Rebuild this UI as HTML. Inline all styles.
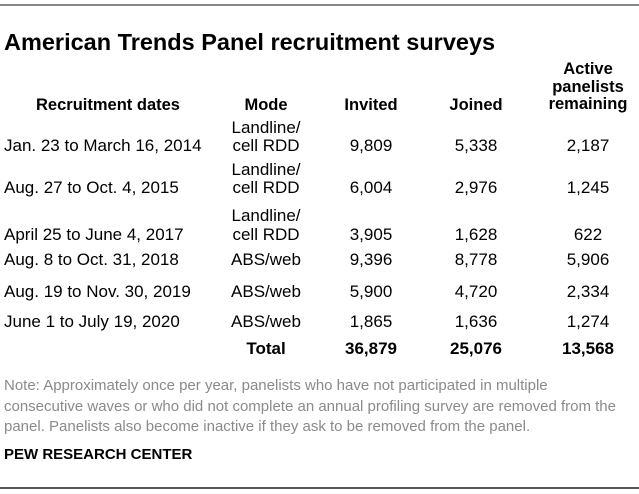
<!DOCTYPE html>
<html><head><style>
body{margin:0;width:639px;height:494px;background:#fff;position:relative;overflow:hidden;font-family:"Liberation Sans Narrow","Liberation Sans",sans-serif;color:#000}
.t{position:absolute;white-space:nowrap;font-size:17px;line-height:18px}
.b{font-weight:bold}
.c{transform:translateX(-50%)}
.h{font-size:16.5px}
.n{color:#8a8a8a;font-size:15px;left:4px}
</style></head><body>
<div style="position:absolute;left:0;top:4px;width:639px;height:2px;background:#888"></div>
<div class="t b" style="left:4px;top:29px;font-size:23.5px;line-height:26px">American Trends Panel recruitment surveys</div>
<div class="t b c h" style="left:588px;top:61px;text-align:center;line-height:17.5px">Active<br>panelists<br>remaining</div>
<div class="t b c h" style="left:108px;top:96px">Recruitment dates</div>
<div class="t b c h" style="left:266px;top:96px">Mode</div>
<div class="t b c h" style="left:371px;top:96px">Invited</div>
<div class="t b c h" style="left:476px;top:96px">Joined</div>

<div class="t c" style="left:266px;top:119px">Landline/</div>
<div class="t" style="left:4px;top:137px">Jan. 23 to March 16, 2014</div>
<div class="t c" style="left:266px;top:137px">cell RDD</div>
<div class="t c" style="left:371px;top:137px">9,809</div>
<div class="t c" style="left:476px;top:137px">5,338</div>
<div class="t c" style="left:588px;top:137px">2,187</div>

<div class="t c" style="left:266px;top:161px">Landline/</div>
<div class="t" style="left:4px;top:179px">Aug. 27 to Oct. 4, 2015</div>
<div class="t c" style="left:266px;top:179px">cell RDD</div>
<div class="t c" style="left:371px;top:179px">6,004</div>
<div class="t c" style="left:476px;top:179px">2,976</div>
<div class="t c" style="left:588px;top:179px">1,245</div>

<div class="t c" style="left:266px;top:207px">Landline/</div>
<div class="t" style="left:4px;top:226px">April 25 to June 4, 2017</div>
<div class="t c" style="left:266px;top:226px">cell RDD</div>
<div class="t c" style="left:371px;top:226px">3,905</div>
<div class="t c" style="left:476px;top:226px">1,628</div>
<div class="t c" style="left:588px;top:226px">622</div>

<div class="t" style="left:4px;top:251px">Aug. 8 to Oct. 31, 2018</div>
<div class="t c" style="left:266px;top:251px">ABS/web</div>
<div class="t c" style="left:371px;top:251px">9,396</div>
<div class="t c" style="left:476px;top:251px">8,778</div>
<div class="t c" style="left:588px;top:251px">5,906</div>

<div class="t" style="left:4px;top:283px">Aug. 19 to Nov. 30, 2019</div>
<div class="t c" style="left:266px;top:283px">ABS/web</div>
<div class="t c" style="left:371px;top:283px">5,900</div>
<div class="t c" style="left:476px;top:283px">4,720</div>
<div class="t c" style="left:588px;top:283px">2,334</div>

<div class="t" style="left:4px;top:313px">June 1 to July 19, 2020</div>
<div class="t c" style="left:266px;top:313px">ABS/web</div>
<div class="t c" style="left:371px;top:313px">1,865</div>
<div class="t c" style="left:476px;top:313px">1,636</div>
<div class="t c" style="left:588px;top:313px">1,274</div>

<div class="t b c" style="left:266px;top:340px">Total</div>
<div class="t b c" style="left:371px;top:340px">36,879</div>
<div class="t b c" style="left:476px;top:340px">25,076</div>
<div class="t b c" style="left:588px;top:340px">13,568</div>

<div class="t n" style="top:377px">Note: Approximately once per year, panelists who have not participated in multiple</div>
<div class="t n" style="top:398px">consecutive waves or who did not complete an annual profiling survey are removed from the</div>
<div class="t n" style="top:418px">panel. Panelists also become inactive if they ask to be removed from the panel.</div>
<div class="t b" style="left:4px;top:446px;font-size:15px">PEW RESEARCH CENTER</div>
<div style="position:absolute;left:0;top:487px;width:639px;height:2px;background:#555"></div>
</body></html>
